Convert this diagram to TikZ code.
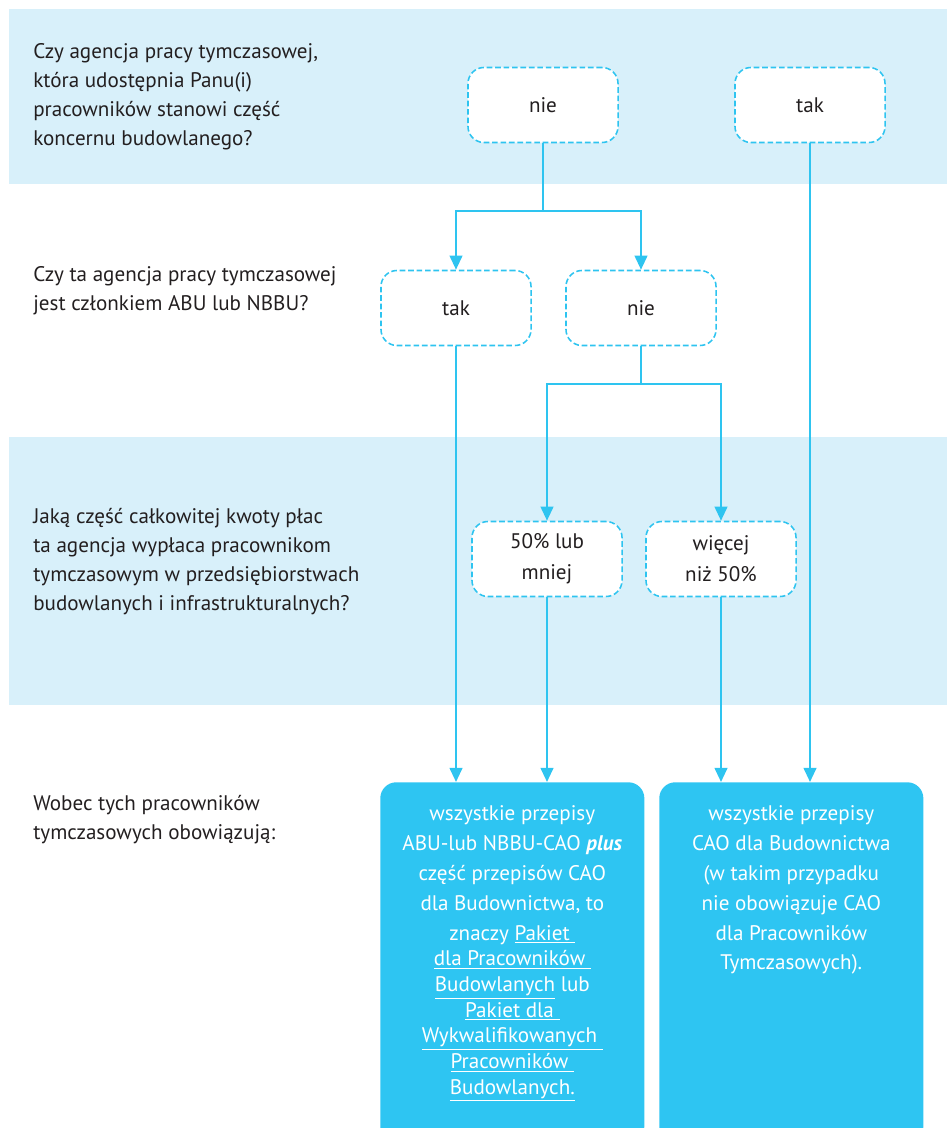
\documentclass[tikz,border=0pt]{standalone}
\usepackage{fontspec}
\setmainfont{PT Sans}
\usetikzlibrary{arrows.meta}
\definecolor{bandblue}{HTML}{D8F0FA}
\definecolor{lineblue}{HTML}{2EC4F0}
\definecolor{boxblue}{HTML}{2EC5F2}
\definecolor{textgray}{HTML}{231F20}

\begin{document}
\begin{tikzpicture}[x=0.025cm,y=-0.025cm]
	\tikzset{answer/.style = {shape=rectangle, draw=lineblue, dash pattern=on 4pt off 2pt, line width=1.1pt, rounded corners=0.4cm, fill=white, minimum width=3.75cm, minimum height=1.875cm, align=center, text=textgray, font=\fontsize{15}{22}\selectfont}}
	\tikzset{result/.style = {shape=rectangle, fill=boxblue, rounded corners=0.4cm, minimum width=6.6cm, minimum height=9cm, anchor=north west}}
	\tikzset{resulttext/.style = {anchor=north, align=center, inner sep=0pt, text=white, font=\fontsize{15}{21.3}\selectfont}}
	\tikzset{question/.style = {anchor=north west, align=left, inner sep=0pt, text=textgray, font=\fontsize{15}{20.6}\selectfont}}
	\tikzset{wire/.style = {draw=lineblue, line width=1.5pt}}
	\tikzset{flow/.style = {wire, -{Triangle[width=9pt,length=10pt]}}}

	\useasboundingbox (0,0) rectangle (947,1128);
	\clip (0,0) rectangle (947,1128);

	\fill[bandblue] (9,9) rectangle (947,184);
	\fill[bandblue] (9,437) rectangle (947,705);

	\node[question] (q1) at (33,43) {Czy agencja pracy tymczasowej,\\która udostępnia Panu(i)\\pracowników stanowi część\\koncernu budowlanego?};
	\node[question] (q2) at (33,266) {Czy ta agencja pracy tymczasowej\\jest członkiem ABU lub NBBU?};
	\node[question] (q3) at (33,508) {Jaką część całkowitej kwoty płac\\ta agencja wypłaca pracownikom\\tymczasowym w przedsiębiorstwach\\budowlanych i infrastrukturalnych?};
	\node[question] (q4) at (33,795) {Wobec tych pracowników\\tymczasowych obowiązują:};

	\node[answer] (nie1) at (543,105) {nie};
	\node[answer] (tak1) at (810,105) {tak};
	\node[answer] (tak2) at (456,308) {tak};
	\node[answer] (nie2) at (641,308) {nie};
	\node[answer] (mniej) at (547,559) {50\% lub\\mniej};
	\node[answer] (wiecej) at (721,559) {więcej\\niż 50\%};

	\node[result] (abu) at (380,782) {};
	\node[result] (cao) at (659,782) {};
	\node[resulttext] (abutext) at ([yshift=-0.575cm]abu.north) {wszystkie przepisy\\ABU-lub NBBU-CAO \textbf{\textit{plus}}\\część przepisów CAO\\dla Budownictwa, to\\znaczy \underline{Pakiet\ }\\[-3pt]\underline{dla Pracowników\ }\\[-3pt]\underline{Budowlanych} lub\\[-3pt]\underline{Pakiet dla\ }\\[-3pt]\underline{Wykwalifikowanych\ }\\[-3pt]\underline{Pracowników\ }\\[-3pt]\underline{Budowlanych.}};
	\node[resulttext] (caotext) at ([yshift=-0.575cm]cao.north) {wszystkie przepisy\\CAO dla Budownictwa\\(w takim przypadku\\nie obowiązuje CAO\\dla Pracowników\\Tymczasowych).};

	\coordinate (fork1) at (543,211);
	\coordinate (fork2) at (641,384);
	\draw[wire] (nie1.south) -- (fork1);
	\draw[flow] (fork1) -| (tak2.north);
	\draw[flow] (fork1) -| (nie2.north);
	\draw[wire] (nie2.south) -- (fork2);
	\draw[flow] (fork2) -| (mniej.north);
	\draw[flow] (fork2) -| (wiecej.north);
	\draw[flow] (tak2.south) -- (tak2.south |- abu.north);
	\draw[flow] (mniej.south) -- (mniej.south |- abu.north);
	\draw[flow] (wiecej.south) -- (wiecej.south |- cao.north);
	\draw[flow] (tak1.south) -- (tak1.south |- cao.north);

\end{tikzpicture}
\end{document}
